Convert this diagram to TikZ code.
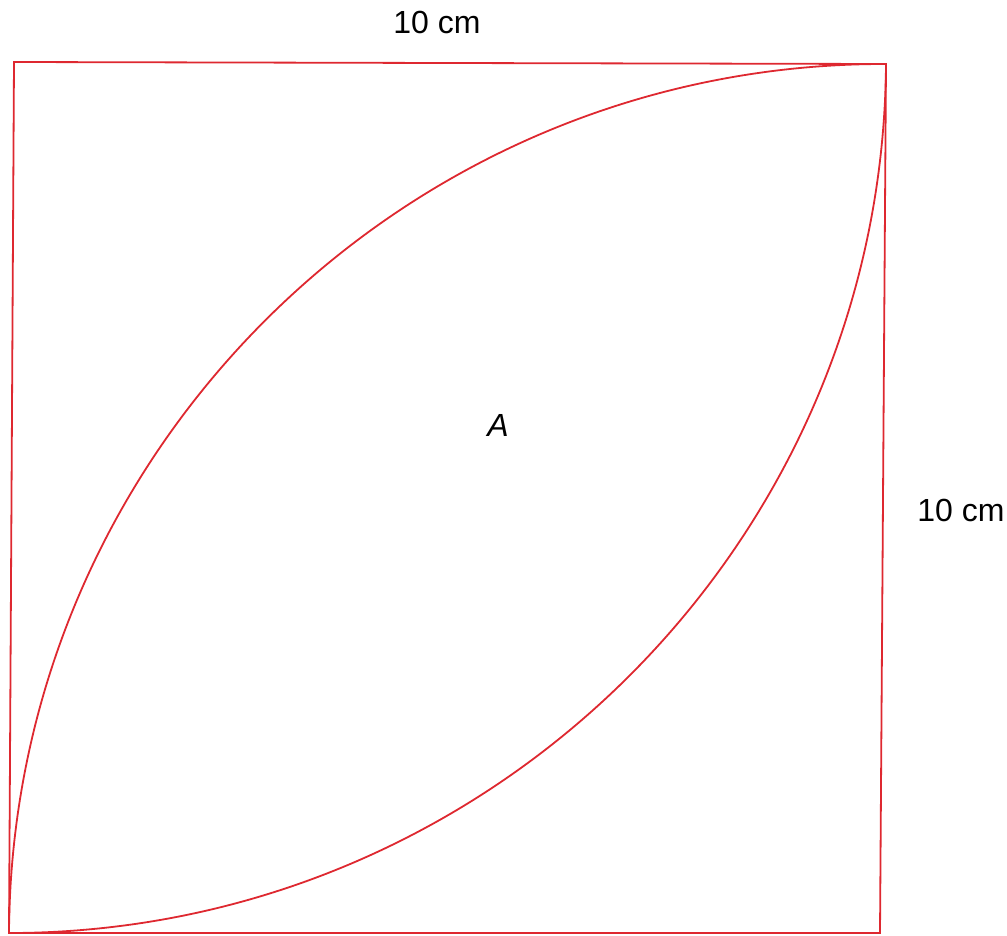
\documentclass[tikz,border=0pt]{standalone}
\usepackage{fontspec}
\setmainfont{Liberation Sans}
\usetikzlibrary{calc}
\begin{document}
\begin{tikzpicture}[x=1pt,y=-1pt,
  edge/.style={draw={rgb,255:red,222;green,40;blue,48}, line width=1.8pt, line join=miter},
  lbl/.style={font=\fontsize{32}{38}\selectfont, inner sep=0pt}]
\useasboundingbox (0,0) rectangle (1007,935);
\coordinate (TL) at (14,62);
\coordinate (TR) at (886,64);
\coordinate (BR) at (880,933);
\coordinate (BL) at (9,933);
\draw[edge] (BL) -- (TL) -- (TR) -- (BR) -- cycle;
\draw[edge] (BL) .. controls ($(BL)!0.5523!(TL)$) and ($(TR)!0.5523!(TL)$) .. (TR);
\draw[edge] (BL) .. controls ($(BL)!0.5523!(BR)$) and ($(TR)!0.5523!(BR)$) .. (TR);
\node[lbl] (top) at (437,22) {10 cm};
\node[lbl] (right) at (961,510) {10 cm};
\node[lbl] (A) at (498,425) {\itshape A};
\end{tikzpicture}
\end{document}
